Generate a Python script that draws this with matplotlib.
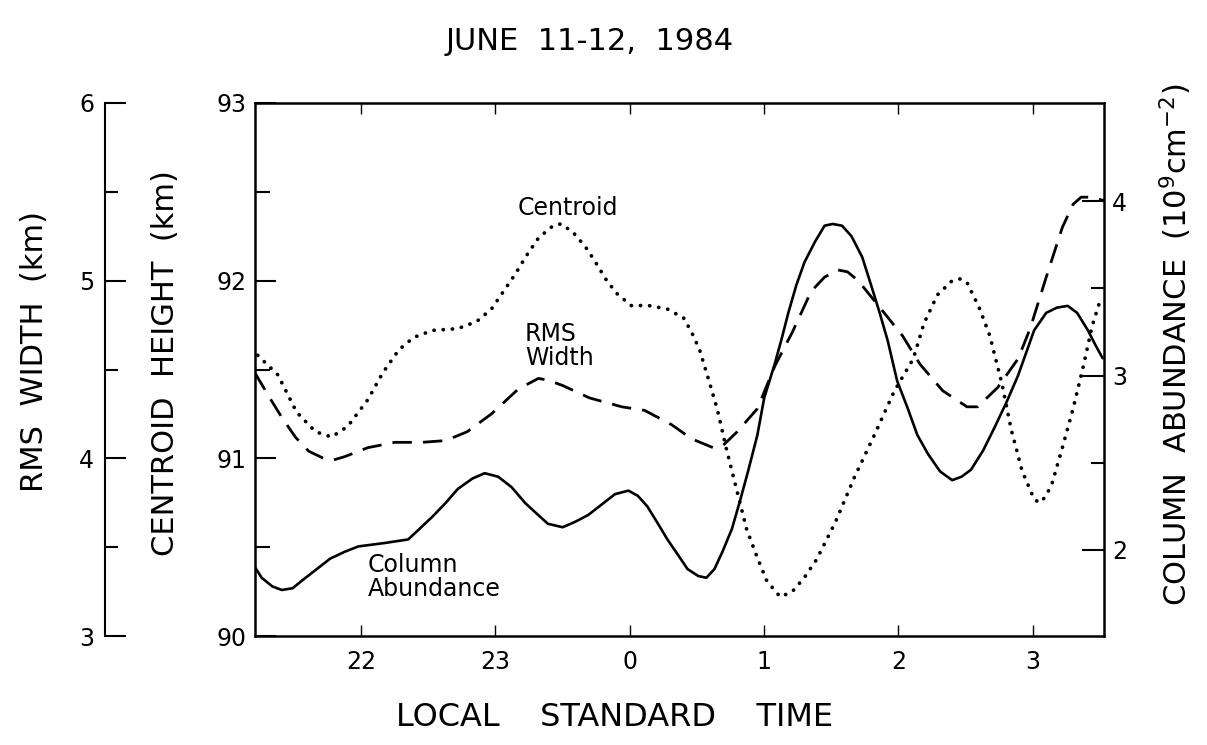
import matplotlib
matplotlib.use("Agg")
import matplotlib.pyplot as plt
from matplotlib.ticker import FixedLocator, FixedFormatter

plt.rcParams['font.family'] = ['DejaVu Sans']

# Local standard time in hours, counted past midnight (24 = 0 h, 25 = 1 h, ...)
hour_ticks = [22, 23, 24, 25, 26, 27]
hour_labels = ["22", "23", "0", "1", "2", "3"]

# Centroid height (km)
centroid_t = [21.23, 21.38, 21.52, 21.66, 21.78, 21.90, 22.05, 22.16, 22.28, 22.39,
              22.53, 22.72, 22.86, 22.97, 23.06, 23.15, 23.23, 23.32, 23.43, 23.49,
              23.58, 23.67, 23.74, 23.82, 23.90, 24.01, 24.14, 24.28, 24.40, 24.46,
              24.52, 24.58, 24.65, 24.72, 24.80, 24.87, 24.95, 25.02, 25.12, 25.21,
              25.30, 25.39, 25.53, 25.67, 25.82, 25.97, 26.11, 26.19, 26.29, 26.40,
              26.46, 26.51, 26.60, 26.68, 26.77, 26.84, 26.92, 27.01, 27.05, 27.09,
              27.14, 27.22, 27.30, 27.38, 27.44, 27.51]
centroid_km = [91.58, 91.47, 91.26, 91.15, 91.12, 91.18, 91.33, 91.48, 91.61, 91.68,
               91.72, 91.73, 91.77, 91.84, 91.94, 92.04, 92.14, 92.24, 92.31, 92.32,
               92.27, 92.19, 92.11, 92.01, 91.93, 91.86, 91.86, 91.84, 91.79, 91.71,
               91.61, 91.46, 91.28, 91.05, 90.81, 90.60, 90.44, 90.31, 90.22, 90.25,
               90.33, 90.43, 90.64, 90.89, 91.13, 91.38, 91.56, 91.76, 91.92, 92.00,
               92.01, 91.99, 91.85, 91.69, 91.42, 91.16, 90.93, 90.77, 90.75, 90.78,
               90.85, 91.06, 91.28, 91.53, 91.74, 91.91]

# RMS width (km)
rms_t = [21.21, 21.32, 21.41, 21.51, 21.61, 21.72, 21.79, 21.88, 22.05, 22.25,
         22.45, 22.63, 22.79, 22.97, 23.17, 23.32, 23.39, 23.50, 23.70, 23.94,
         24.11, 24.31, 24.46, 24.62, 24.69, 24.80, 24.95, 25.08, 25.21, 25.35,
         25.45, 25.55, 25.62, 25.70, 25.85, 26.03, 26.16, 26.33, 26.51, 26.59,
         26.74, 26.89, 26.98, 27.10, 27.22, 27.30, 27.36, 27.44, 27.53]
rms_km = [4.48, 4.34, 4.23, 4.12, 4.04, 4.00, 3.99, 4.01, 4.06, 4.09,
          4.09, 4.10, 4.15, 4.25, 4.39, 4.45, 4.44, 4.41, 4.34, 4.29,
          4.27, 4.19, 4.11, 4.06, 4.07, 4.15, 4.28, 4.52, 4.71, 4.94,
          5.02, 5.06, 5.05, 5.00, 4.86, 4.69, 4.53, 4.38, 4.29, 4.29,
          4.40, 4.56, 4.73, 5.02, 5.30, 5.43, 5.47, 5.47, 5.45]

# Column abundance (10^9 cm^-2)
column_t = [21.21, 21.26, 21.34, 21.41, 21.49, 21.57, 21.67, 21.77, 21.88, 21.98,
            22.18, 22.35, 22.42, 22.53, 22.63, 22.72, 22.83, 22.92, 23.02, 23.12,
            23.22, 23.29, 23.39, 23.50, 23.59, 23.69, 23.79, 23.89, 23.99, 24.06,
            24.13, 24.21, 24.28, 24.36, 24.43, 24.51, 24.57, 24.63, 24.69, 24.76,
            24.82, 24.88, 24.95, 25.00, 25.08, 25.13, 25.18, 25.24, 25.30, 25.38,
            25.45, 25.51, 25.58, 25.65, 25.73, 25.80, 25.86, 25.92, 25.99, 26.07,
            26.14, 26.22, 26.31, 26.40, 26.47, 26.54, 26.63, 26.72, 26.80, 26.89,
            26.95, 27.01, 27.10, 27.18, 27.26, 27.33, 27.41, 27.47, 27.52]
column_ab = [1.90, 1.84, 1.79, 1.77, 1.78, 1.83, 1.89, 1.95, 1.99, 2.02,
             2.04, 2.06, 2.11, 2.19, 2.27, 2.35, 2.41, 2.44, 2.42, 2.36,
             2.27, 2.22, 2.15, 2.13, 2.16, 2.20, 2.26, 2.32, 2.34, 2.31,
             2.25, 2.15, 2.06, 1.97, 1.89, 1.85, 1.84, 1.89, 1.99, 2.12,
             2.28, 2.45, 2.66, 2.87, 3.07, 3.21, 3.36, 3.52, 3.65, 3.77,
             3.86, 3.87, 3.86, 3.80, 3.68, 3.51, 3.36, 3.20, 2.97, 2.81,
             2.66, 2.55, 2.45, 2.40, 2.42, 2.46, 2.57, 2.71, 2.84, 3.00,
             3.13, 3.26, 3.36, 3.39, 3.40, 3.36, 3.26, 3.17, 3.10]

W, H = 1207, 745
L, R, T, B = 255, 1104, 103, 636
fig = plt.figure(figsize=(W / 100, H / 100), dpi=100)
fig.patch.set_facecolor("white")
ax = fig.add_axes([L / W, 1 - B / H, (R - L) / W, (B - T) / H])

SPINE_W = 1.8
TICK_FS = 17
LABEL_FS = 22

# --- main axes: centroid height ---
ax.set_xlim(21.21, 27.53)
ax.set_ylim(90, 93)
ax.plot(centroid_t, centroid_km, color="black", lw=2.7,
        linestyle=(0, (0.05, 2.4)), dash_capstyle="round")
ax.xaxis.set_major_locator(FixedLocator(hour_ticks))
ax.xaxis.set_major_formatter(FixedFormatter(hour_labels))
ax.yaxis.set_major_locator(FixedLocator([90, 91, 92, 93]))
ax.yaxis.set_minor_locator(FixedLocator([90.5, 91.5, 92.5]))
ax.tick_params(axis="x", which="major", direction="in", length=8, width=1,
               top=True, labelsize=TICK_FS, pad=10)
ax.tick_params(axis="y", which="major", direction="in", length=15, width=1.5,
               labelsize=TICK_FS, pad=6)
ax.tick_params(axis="y", which="minor", direction="in", length=11, width=1.5)
for s in ax.spines.values():
    s.set_linewidth(SPINE_W)
ax.spines["right"].set_visible(False)

# --- far-left axis: RMS width ---
ax_rms = ax.twinx()
ax_rms.set_ylim(3, 6)
ax_rms.plot(rms_t, rms_km, color="black", lw=2.0, linestyle=(0, (7, 4)),
            solid_joinstyle="round", dash_joinstyle="round")
ax_rms.yaxis.tick_left()
ax_rms.yaxis.set_label_position("left")
for k in ("right", "top", "bottom"):
    ax_rms.spines[k].set_visible(False)
ax_rms.spines["left"].set_visible(True)
ax_rms.spines["left"].set_position(("axes", -150 / (R - L)))
ax_rms.spines["left"].set_linewidth(1.5)
ax_rms.yaxis.set_major_locator(FixedLocator([3, 4, 5, 6]))
ax_rms.yaxis.set_minor_locator(FixedLocator([3.5, 4.5, 5.5]))
ax_rms.tick_params(axis="y", which="major", direction="in", length=15, width=1.5,
                   labelsize=TICK_FS, pad=8)
ax_rms.tick_params(axis="y", which="minor", direction="in", length=9.5, width=1.5)

# --- right axis: column abundance ---
ax_col = ax.twinx()
ax_col.set_ylim(1.506, 4.564)
ax_col.plot(column_t, column_ab, color="black", lw=1.9,
            solid_joinstyle="round", solid_capstyle="round")
for k in ("left", "top", "bottom"):
    ax_col.spines[k].set_visible(False)
ax_col.spines["right"].set_linewidth(SPINE_W)
ax_col.yaxis.set_major_locator(FixedLocator([2, 3, 4]))
ax_col.yaxis.set_minor_locator(FixedLocator([2.5, 3.5]))
ax_col.tick_params(axis="y", which="major", direction="in", length=16, width=1.5,
                   labelsize=TICK_FS, pad=6)
ax_col.tick_params(axis="y", which="minor", direction="in", length=9.5, width=1.5)

# --- curve annotations (placed in centroid-height coordinates) ---
ax.text(23.54, 92.41, "Centroid", fontsize=17, ha="center", va="center")
ax.text(23.22, 91.63, "RMS\nWidth", fontsize=17, ha="left", va="center",
        linespacing=1.0)
ax.text(22.05, 90.33, "Column\nAbundance", fontsize=17, ha="left", va="center",
        linespacing=1.0)

# --- titles and axis labels ---
fig.text(590 / W, 1 - 42 / H, "JUNE  11-12,  1984", fontsize=22,
         ha="center", va="center")
fig.text(615 / W, 1 - 718 / H, "LOCAL    STANDARD    TIME", fontsize=23,
         ha="center", va="center")
fig.text(35 / W, 1 - 351 / H, "RMS  WIDTH  (km)", fontsize=LABEL_FS,
         rotation=90, ha="center", va="center")
fig.text(166 / W, 1 - 363 / H, "CENTROID  HEIGHT  (km)", fontsize=LABEL_FS,
         rotation=90, ha="center", va="center")
fig.text(1176 / W, 1 - 345 / H, r"COLUMN  ABUNDANCE  (10$^{9}$cm$^{-2}$)",
         fontsize=LABEL_FS, rotation=90, ha="center", va="center")

fig.savefig("out.png", dpi=100, facecolor="white")
